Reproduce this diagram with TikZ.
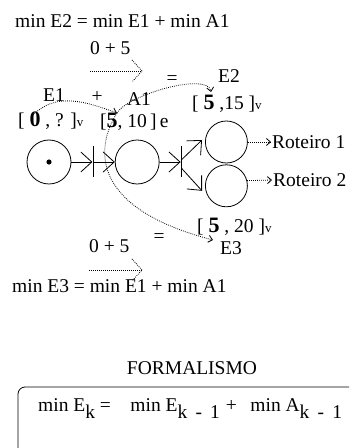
\documentclass[tikz,border=0pt]{standalone}
\usepackage{fontspec}
\setmainfont{Liberation Serif}
\usetikzlibrary{positioning,arrows.meta,calc}
\tikzset{
    place/.style={circle,draw,line width=0.8pt,minimum size=44pt,inner sep=0pt},
    trans/.style={rectangle,fill=black,minimum width=1pt,minimum height=31pt,inner sep=0pt},
    lbl/.style={inner sep=0pt,font=\fontsize{19.5}{22}\selectfont},
    arc/.style={-{Straight Barb[length=11pt,width=20pt]},line width=0.8pt},
    dots/.style={line width=0.8pt,dash pattern=on 0.8pt off 1.2pt},
    curv/.style={dots,-{Straight Barb[length=4pt,width=7pt]}},
}
\newcommand{\sm}[1]{{\fontsize{13}{14}\selectfont #1}}
\newcommand{\bd}[1]{{\fontsize{22}{22}\selectfont\bfseries #1}}
\newcommand{\sub}[1]{\raisebox{-6pt}{#1}}
\newcommand{\km}{k\hspace{0.42em}-\hspace{0.42em}1}

\begin{document}
\begin{tikzpicture}[x=1pt,y=1pt]
\useasboundingbox (0,0) rectangle (349,448);
% upper sum
\node[lbl,anchor=base west] (eq2) at (15,420) {min E2 = min E1 + min A1};
\node[lbl,anchor=base west] (sum2) at (90,393) {0 + 5};
\coordinate (s2a) at (90,377);
\coordinate (s2b) at (142,377);
\node[lbl] (is2) at (172,368) {=};
\node[lbl,anchor=base] (lE2) at (229,365) {E2};
\node[lbl,anchor=base] (lE1) at (54,346) {E1};
\node[lbl] (plus) at (97,351) {+};
\node[lbl,anchor=base] (lA1) at (139,342) {A1};
\node[lbl,anchor=base west] (m2) at (192,338) {[ \bd{5} ,15 ]\sm{v}};
\node[lbl,anchor=base west] (m1) at (18,321) {[ \bd{0} , ? ]\sm{v}};
\node[lbl,anchor=base west] (mA) at (100,320) {[\bd{5}, 10\,]\,e};

% the net
\node[place] (p1) at (49,286) {};
\fill (p1) circle (2.6pt);
\node[trans,right=21pt of p1] (t1) {};
\node[place,right=21pt of t1] (p2) {};
\node[trans,right=21pt of p2] (t2) {};
\node[place,minimum size=42pt,right=23pt of t2,yshift=20pt] (p3) {};
\node[place,minimum size=42pt,below=1pt of p3] (p4) {};
\node[lbl,anchor=west] (r1) at (272,306) {Roteiro 1};
\node[lbl,anchor=west] (r2) at (273,268) {Roteiro 2};

\draw[arc] (p1) -- (t1);
\draw[arc] (t1) -- (p2);
\draw[arc] (p2) -- (t2);
\draw[arc] ([yshift=2pt]t2.center) -- ([xshift=-3pt,yshift=2pt]p3.west);
\draw[arc] ([yshift=-6pt]t2.center) -- ([xshift=-3pt,yshift=-5pt]p4.west);
\draw[curv,shorten >=1pt] (p3.east) -- (r1.west);
\draw[curv,shorten >=1pt] (p4.14) -- (r2.west);

% lower sum
\node[lbl,anchor=base west] (m3) at (197,215) {[ \bd{5} , 20 ]\sm{v}};
\node[lbl,anchor=base] (lE3) at (231,193) {E3};
\node[lbl] (is3) at (159,210) {=};
\node[lbl,anchor=base west] (sum3) at (89,195) {0 + 5};
\coordinate (s3a) at (89,178);
\coordinate (s3b) at (142,178);
\node[lbl,anchor=base west] (eq3) at (12,155) {min E3 = min E1 + min A1};

% dotted sum arrows
\draw[dots] (s2a) -- (s2b);
\draw[dots] ([shift={(-10,11)}]s2b) -- (s2b) -- ([shift={(-10,-11)}]s2b);
\draw[dots] (s3a) -- (s3b);
\draw[dots] ([shift={(-10,11)}]s3b) -- (s3b) -- ([shift={(-10,-11)}]s3b);

% curved arrows
\coordinate (e1pt) at (33,333);
\coordinate (a1pt) at (117,335);
\coordinate (e2pt) at (211,356);
\coordinate (e3pt) at (213,208);
\draw[curv] (e1pt) to[out=45,in=160] (a1pt);
\draw[curv] (a1pt) to[out=60,in=100,looseness=0.55] (e2pt);
\draw[curv] (a1pt) .. controls (95,300) and (90,240) .. (e3pt);

% formalism
\node[lbl,anchor=base] (fm) at (192,73) {FORMALISMO};
\draw[line width=0.8pt,rounded corners=7pt] (349,61) -- (18,61) -- (18,0);
\node[lbl,anchor=base west] (rule) at (38,36) {min E\sub{k} =\hspace{1em}min E\sub{\km}\hspace{0.3em}+\hspace{0.7em}min A\sub{\km}};
\end{tikzpicture}
\end{document}
